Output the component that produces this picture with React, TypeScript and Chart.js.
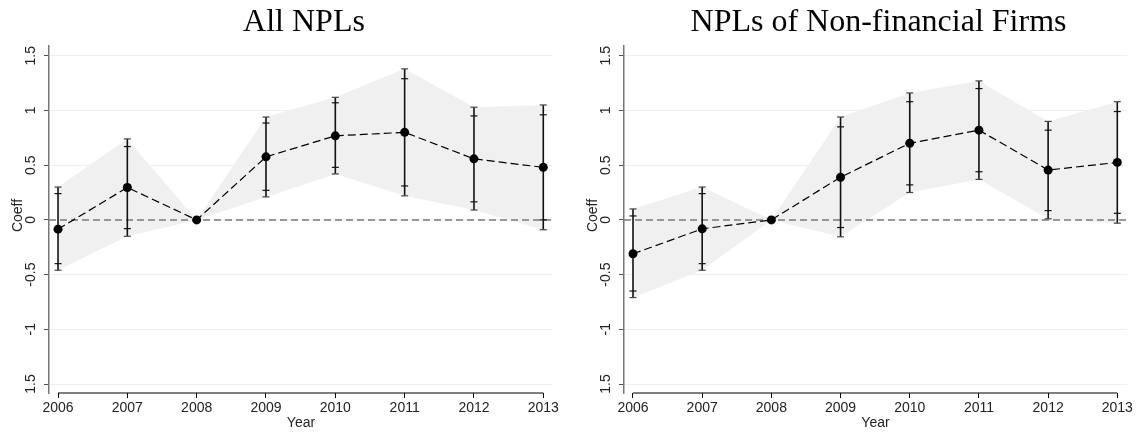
import { useEffect, useRef } from "react";
import { Chart, registerables, type Plugin } from "chart.js";

Chart.register(...registerables);

const YEARS = [2006, 2007, 2008, 2009, 2010, 2011, 2012, 2013];
const Y_TICKS = [-1.5, -1, -0.5, 0, 0.5, 1, 1.5];
// the bottom label shows without its minus sign in the original
const Y_TICK_LABELS = ["1.5", "-1", "-0.5", "0", "0.5", "1", "1.5"];

// All NPLs
const COEF_ALL = [-0.085, 0.296, 0, 0.576, 0.768, 0.8, 0.558, 0.48];
const HI95_ALL = [0.3, 0.74, 0, 0.94, 1.12, 1.38, 1.03, 1.05];
const HI90_ALL = [0.24, 0.67, 0, 0.885, 1.07, 1.29, 0.95, 0.96];
const LO90_ALL = [-0.4, -0.08, 0, 0.27, 0.48, 0.31, 0.165, 0.0];
const LO95_ALL = [-0.46, -0.15, 0, 0.21, 0.42, 0.22, 0.09, -0.09];

// NPLs of non-financial firms
const COEF_NF = [-0.31, -0.082, 0, 0.39, 0.7, 0.82, 0.455, 0.525];
const HI95_NF = [0.1, 0.3, 0, 0.94, 1.16, 1.27, 0.9, 1.08];
const HI90_NF = [0.036, 0.24, 0, 0.85, 1.08, 1.2, 0.82, 0.99];
const LO90_NF = [-0.65, -0.4, 0, -0.07, 0.32, 0.44, 0.085, 0.06];
const LO95_NF = [-0.71, -0.46, 0, -0.155, 0.25, 0.37, 0.01, -0.03];

const SANS = "'Liberation Sans', Arial, sans-serif";

interface PanelProps {
  title: string;
  coef: number[];
  hi95: number[];
  hi90: number[];
  lo90: number[];
  lo95: number[];
  padLeft: number;
  padRight: number;
}

const toPoints = (vals: number[]) => YEARS.map((x, i) => ({ x, y: vals[i] }));

function makePlugin(p: PanelProps): Plugin<"line"> {
  return {
    id: "stataDecor",
    beforeDatasetDraw(chart, args) {
      if (chart.data.datasets[args.index].label !== "Coeff") return;
      const { ctx, chartArea } = chart;
      const xs = chart.scales.x;
      const ys = chart.scales.y;

      // reference line at zero
      ctx.save();
      ctx.strokeStyle = "#7a7a7a";
      ctx.lineWidth = 1.5;
      ctx.setLineDash([7, 4]);
      const y0 = ys.getPixelForValue(0);
      ctx.beginPath();
      ctx.moveTo(chartArea.left, y0);
      ctx.lineTo(chartArea.right, y0);
      ctx.stroke();
      ctx.restore();

      // error bars
      ctx.save();
      YEARS.forEach((yr, i) => {
        if (p.hi95[i] === p.lo95[i]) return;
        const x = xs.getPixelForValue(yr);
        ctx.strokeStyle = "#111";
        ctx.lineWidth = 1.6;
        ctx.beginPath();
        ctx.moveTo(x, ys.getPixelForValue(p.lo95[i]));
        ctx.lineTo(x, ys.getPixelForValue(p.hi95[i]));
        ctx.stroke();
        const cap = (v: number, color: string) => {
          const y = ys.getPixelForValue(v);
          ctx.strokeStyle = color;
          ctx.lineWidth = 1.2;
          ctx.beginPath();
          ctx.moveTo(x - 3.5, y);
          ctx.lineTo(x + 3.5, y);
          ctx.stroke();
        };
        cap(p.hi95[i], "#444");
        cap(p.lo95[i], "#444");
        cap(p.hi90[i], "#111");
        cap(p.lo90[i], "#111");
      });
      ctx.restore();
    },
    afterDraw(chart) {
      const { ctx, chartArea } = chart;
      const xs = chart.scales.x;
      const ys = chart.scales.y;

      // x axis line spans the first to the last year only
      ctx.save();
      ctx.strokeStyle = "#000";
      ctx.lineWidth = 1.2;
      ctx.beginPath();
      ctx.moveTo(xs.getPixelForValue(YEARS[0]), chartArea.bottom);
      ctx.lineTo(xs.getPixelForValue(YEARS[YEARS.length - 1]), chartArea.bottom);
      ctx.stroke();
      ctx.restore();

      // rotated y tick labels
      ctx.save();
      ctx.fillStyle = "#222";
      ctx.font = `14px ${SANS}`;
      ctx.textAlign = "center";
      ctx.textBaseline = "middle";
      Y_TICKS.forEach((v, i) => {
        ctx.save();
        ctx.translate(chartArea.left - 18, ys.getPixelForValue(v));
        ctx.rotate(-Math.PI / 2);
        ctx.fillText(Y_TICK_LABELS[i], 0, 0);
        ctx.restore();
      });
      ctx.restore();

      // y title
      ctx.save();
      ctx.fillStyle = "#222";
      ctx.font = `14px ${SANS}`;
      ctx.textAlign = "center";
      ctx.textBaseline = "middle";
      ctx.translate(chartArea.left - 31, (chartArea.top + chartArea.bottom) / 2 - 4);
      ctx.rotate(-Math.PI / 2);
      ctx.fillText("Coeff", 0, 0);
      ctx.restore();

      // panel title
      ctx.save();
      ctx.fillStyle = "#000";
      ctx.font = "32px 'Liberation Serif', serif";
      ctx.textAlign = "center";
      ctx.textBaseline = "alphabetic";
      ctx.fillText(p.title, (chartArea.left + chartArea.right) / 2 + 3, 31);
      ctx.restore();
    },
  };
}

function Panel(p: PanelProps) {
  const canvasRef = useRef<HTMLCanvasElement>(null);

  useEffect(() => {
    if (!canvasRef.current) return;
    const chart = new Chart(canvasRef.current, {
      type: "line",
      data: {
        datasets: [
          {
            label: "Coeff",
            data: toPoints(p.coef),
            borderColor: "#000",
            borderWidth: 1.2,
            borderDash: [8, 4],
            pointRadius: 4.5,
            pointBackgroundColor: "#000",
            pointBorderWidth: 0,
            fill: false,
            order: 0,
          },
          {
            label: "hi95",
            data: toPoints(p.hi95),
            borderWidth: 0,
            pointRadius: 0,
            backgroundColor: "#f0f0f0",
            fill: "+1",
            order: 3,
          },
          {
            label: "lo95",
            data: toPoints(p.lo95),
            borderWidth: 0,
            pointRadius: 0,
            fill: false,
            order: 2,
          },
        ],
      },
      options: {
        responsive: false,
        animation: false,
        layout: { padding: { left: p.padLeft, right: p.padRight, top: 46, bottom: 0 } },
        plugins: { legend: { display: false }, tooltip: { enabled: false } },
        scales: {
          x: {
            type: "linear",
            min: 2005.87,
            max: 2013.14,
            afterBuildTicks: (s) => {
              s.ticks = YEARS.map((value) => ({ value }));
            },
            afterFit: (s) => {
              s.height = 39;
            },
            border: { display: false },
            grid: { drawOnChartArea: false, drawTicks: true, tickLength: 5, tickColor: "#000" },
            ticks: {
              color: "#222",
              font: { family: SANS, size: 14 },
              padding: 2,
              maxRotation: 0,
              callback: (v) => String(v),
            },
            title: {
              display: true,
              text: "Year",
              color: "#222",
              font: { family: SANS, size: 14 },
              padding: 0,
            },
          },
          y: {
            type: "linear",
            min: -1.582,
            max: 1.589,
            afterBuildTicks: (s) => {
              s.ticks = Y_TICKS.map((value) => ({ value }));
            },
            afterFit: (s) => {
              s.width = 5;
            },
            border: { display: true, color: "#777", width: 1.5 },
            grid: { color: "#eaf0f0", lineWidth: 1, drawTicks: true, tickLength: 5, tickColor: "#555" },
            ticks: { display: false },
          },
        },
      },
      plugins: [makePlugin(p)],
    });
    return () => chart.destroy();
  }, [p]);

  return <canvas ref={canvasRef} width={571} height={432} style={{ display: "block" }} />;
}

const PANEL_ALL: PanelProps = {
  title: "All NPLs",
  coef: COEF_ALL,
  hi95: HI95_ALL,
  hi90: HI90_ALL,
  lo90: LO90_ALL,
  lo95: LO95_ALL,
  padLeft: 44,
  padRight: 18,
};

const PANEL_NF: PanelProps = {
  title: "NPLs of Non-financial Firms",
  coef: COEF_NF,
  hi95: HI95_NF,
  hi90: HI90_NF,
  lo90: LO90_NF,
  lo95: LO95_NF,
  padLeft: 48,
  padRight: 15,
};

export default function App() {
  useEffect(() => {
    document.body.style.margin = "0";
  }, []);

  return (
    <div style={{ display: "flex", width: 1142, height: 432, background: "#fff" }}>
      <Panel {...PANEL_ALL} />
      <Panel {...PANEL_NF} />
    </div>
  );
}
